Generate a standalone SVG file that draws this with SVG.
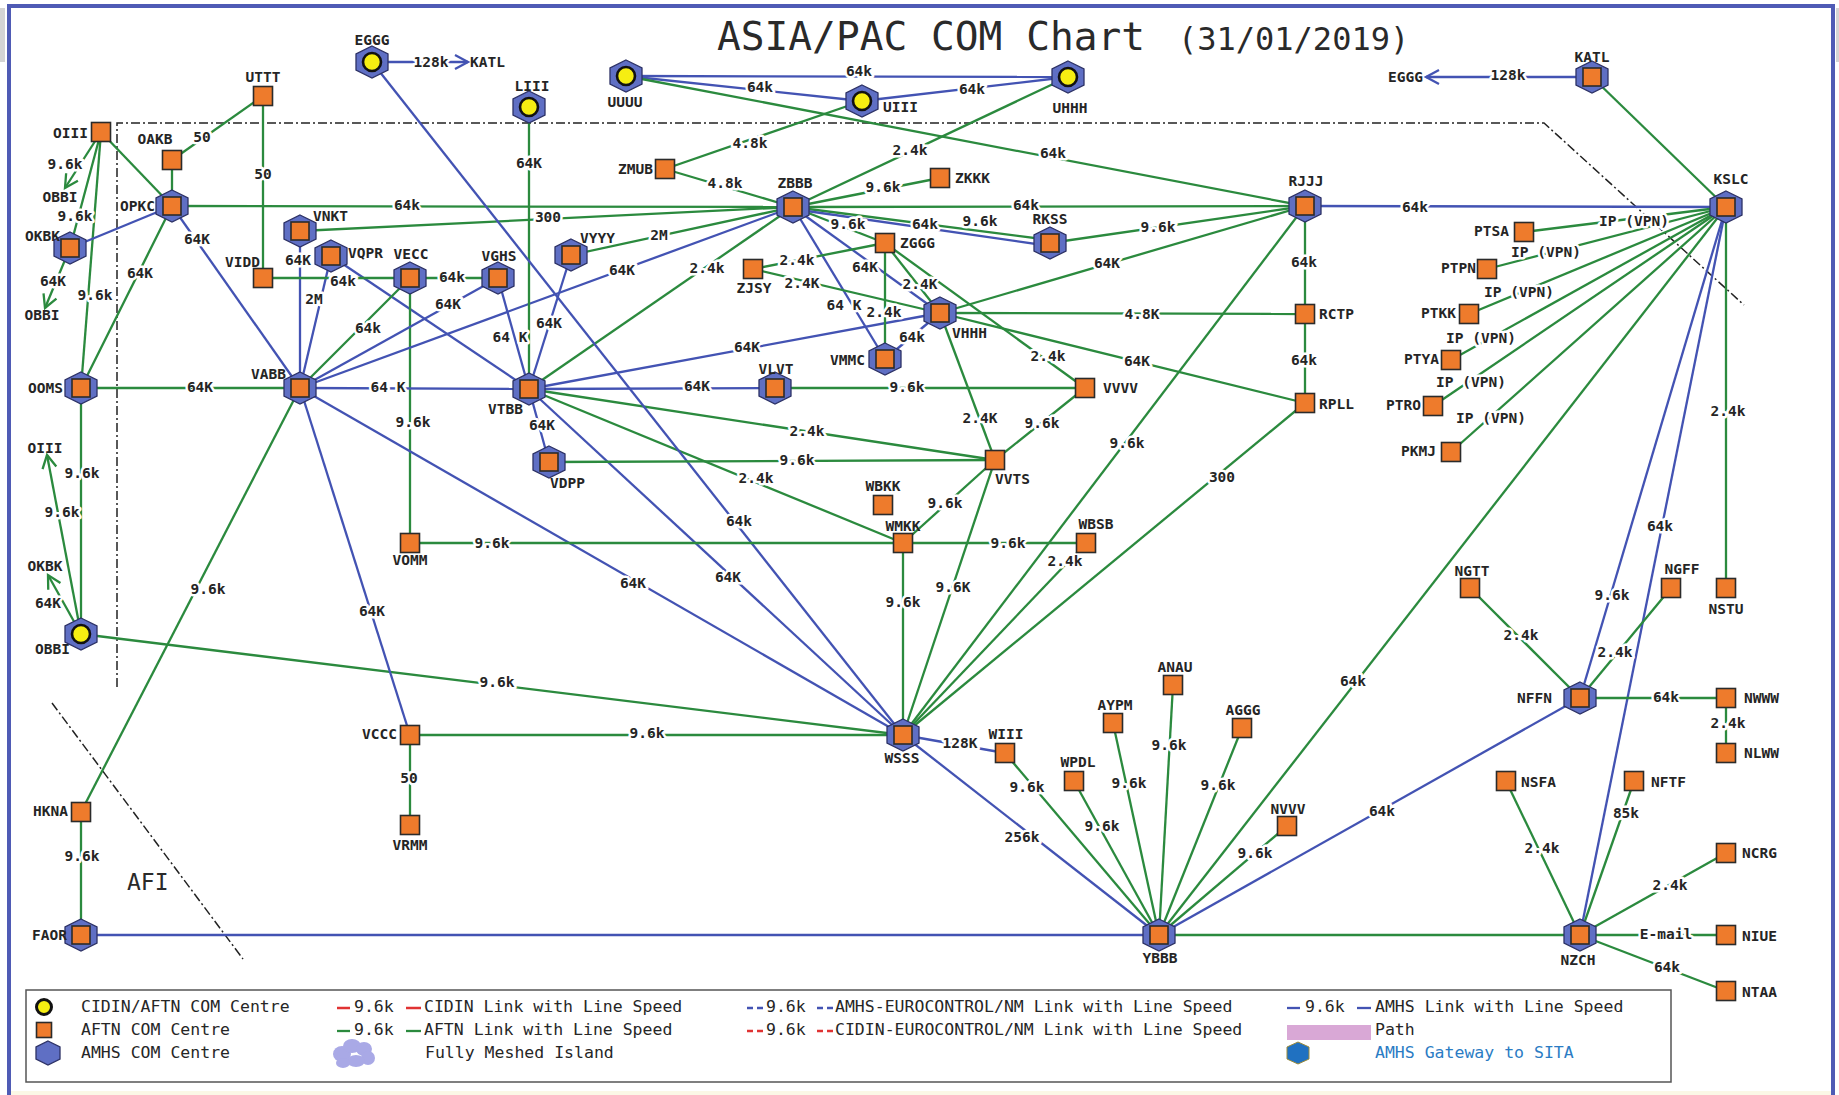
<svg xmlns="http://www.w3.org/2000/svg" xmlns:xlink="http://www.w3.org/1999/xlink" width="1839" height="1095" viewBox="0 0 1839 1095">
<style>
  .g{stroke:#2b8a3e;stroke-width:2.3;fill:none}
  .b{stroke:#4353b3;stroke-width:2.3;fill:none}
  .bd{stroke:#222;stroke-width:1.5;fill:none;stroke-dasharray:9 3 2 3}
  .hex{fill:#5f6fc4;stroke:#2d3266;stroke-width:1.3}
  .sq{fill:#ee7b2c;stroke:#2b2b2b;stroke-width:1.6}
  .yc{fill:#f6ee12;stroke:#111;stroke-width:2.6}
  .nl{font-family:"DejaVu Sans Mono",monospace;font-weight:bold;font-size:14.5px;fill:#252525}
  .m{text-anchor:middle}
  .e{text-anchor:end}
  .el{font-family:"DejaVu Sans Mono",monospace;font-weight:bold;font-size:14.5px;fill:#252525;text-anchor:middle;dominant-baseline:central;stroke:#fff;stroke-width:5;stroke-linejoin:round;paint-order:stroke}
  .lg{font-family:"DejaVu Sans Mono",monospace;font-size:16.5px;fill:#262626}
  .ttl{font-family:"DejaVu Sans Mono",monospace;fill:#2a2a2a}
</style>
<defs>
  <polygon id="hex" class="hex" points="0,-16 16,-8 16,8 0,16 -16,8 -16,-8"/>
  <rect id="sq" class="sq" x="-9.5" y="-9.5" width="19" height="19"/>
  <rect id="sqi" class="sq" x="-9" y="-9" width="18" height="18"/>
  <circle id="yc" class="yc" r="9"/>
  <marker id="arG" markerUnits="userSpaceOnUse" markerWidth="18" markerHeight="18" refX="14" refY="8" orient="auto" overflow="visible">
    <path d="M1,1 L14,8 L1,15" fill="none" stroke="#2b8a3e" stroke-width="2.3"/>
  </marker>
  <marker id="arB" markerUnits="userSpaceOnUse" markerWidth="18" markerHeight="18" refX="14" refY="8" orient="auto" overflow="visible">
    <path d="M1,1 L14,8 L1,15" fill="none" stroke="#4353b3" stroke-width="2.3"/>
  </marker>
</defs>

<!-- page -->
<rect x="0" y="0" width="1839" height="1095" fill="#fff"/>
<rect x="0" y="8" width="5" height="54" fill="#d4d4d4"/>
<rect x="1836" y="8" width="3" height="54" fill="#d4d4d4"/>
<rect x="11" y="1091" width="1820" height="4" fill="#fbf8e6"/>
<path d="M9,1100 V6 H1833 V1100" fill="none" stroke="#4f5bb5" stroke-width="4"/>

<!-- title -->
<text class="ttl" x="717" y="50" font-size="39.5">ASIA/PAC COM Chart</text>
<text class="ttl" x="1178" y="50" font-size="32">(31/01/2019)</text>

<!-- region boundaries -->
<g id="boundaries">
  <path class="bd" d="M117,687 V123 H1544 L1744,305"/>
  <path class="bd" d="M52,703 L243,959"/>
  <text class="ttl" x="127" y="890" font-size="23">AFI</text>
</g>

<g id="connectors">
  <!-- arrows to external centres -->
  <line class="b" x1="372" y1="62" x2="468" y2="62" marker-end="url(#arB)"/>
  <line class="b" x1="1592" y1="77" x2="1426" y2="77" marker-end="url(#arB)"/>
  <line class="g" x1="101" y1="132" x2="65" y2="188" marker-end="url(#arG)"/>
  <line class="g" x1="70" y1="248" x2="45" y2="308" marker-end="url(#arG)"/>
  <line class="g" x1="81" y1="634" x2="47" y2="455" marker-end="url(#arG)"/>
  <line class="g" x1="81" y1="634" x2="48" y2="575" marker-end="url(#arG)"/>

  <!-- west -->
  <line class="g" x1="263" y1="96" x2="172" y2="160"/>
  <line class="g" x1="263" y1="96" x2="263" y2="278"/>
  <line class="g" x1="172" y1="160" x2="172" y2="206"/>
  <line class="g" x1="101" y1="132" x2="172" y2="206"/>
  <line class="g" x1="101" y1="132" x2="70" y2="248"/>
  <line class="g" x1="101" y1="132" x2="81" y2="388"/>
  <line class="b" x1="70" y1="248" x2="172" y2="206"/>
  <line class="g" x1="172" y1="206" x2="81" y2="388"/>
  <line class="b" x1="172" y1="206" x2="300" y2="388"/>
  <line class="g" x1="172" y1="206" x2="793" y2="207"/>
  <line class="g" x1="81" y1="388" x2="300" y2="388"/>
  <line class="g" x1="81" y1="388" x2="81" y2="634"/>
  <line class="g" x1="81" y1="634" x2="903" y2="735"/>
  <line class="g" x1="300" y1="388" x2="81" y2="812"/>
  <line class="g" x1="81" y1="812" x2="81" y2="935"/>
  <line class="b" x1="81" y1="935" x2="1159" y2="935"/>

  <!-- India / Bay of Bengal -->
  <line class="g" x1="300" y1="231" x2="793" y2="207"/>
  <line class="b" x1="300" y1="231" x2="300" y2="388"/>
  <line class="b" x1="331" y1="256" x2="300" y2="388"/>
  <line class="b" x1="331" y1="256" x2="529" y2="389"/>
  <line class="g" x1="263" y1="278" x2="410" y2="278"/>
  <line class="g" x1="410" y1="278" x2="498" y2="278"/>
  <line class="g" x1="410" y1="278" x2="300" y2="388"/>
  <line class="g" x1="410" y1="278" x2="410" y2="543"/>
  <line class="b" x1="498" y1="278" x2="300" y2="388"/>
  <line class="b" x1="498" y1="278" x2="529" y2="389"/>
  <line class="b" x1="571" y1="255" x2="529" y2="389"/>
  <line class="g" x1="571" y1="255" x2="793" y2="207"/>
  <line class="b" x1="300" y1="388" x2="793" y2="207"/>
  <line class="b" x1="300" y1="388" x2="529" y2="389"/>
  <line class="b" x1="300" y1="388" x2="410" y2="735"/>
  <line class="b" x1="300" y1="388" x2="903" y2="735"/>
  <line class="g" x1="529" y1="107" x2="529" y2="389"/>
  <line class="g" x1="529" y1="389" x2="793" y2="207"/>
  <line class="b" x1="529" y1="389" x2="940" y2="313"/>
  <line class="b" x1="529" y1="389" x2="775" y2="388"/>
  <line class="b" x1="529" y1="389" x2="549" y2="462"/>
  <line class="g" x1="529" y1="389" x2="995" y2="460"/>
  <line class="g" x1="529" y1="389" x2="903" y2="543"/>
  <line class="b" x1="529" y1="389" x2="903" y2="735"/>
  <line class="b" x1="372" y1="62" x2="903" y2="735"/>
  <line class="g" x1="775" y1="388" x2="1085" y2="388"/>
  <line class="g" x1="549" y1="462" x2="995" y2="460"/>
  <line class="g" x1="410" y1="543" x2="903" y2="543"/>
  <line class="g" x1="410" y1="735" x2="903" y2="735"/>
  <line class="g" x1="410" y1="735" x2="410" y2="825"/>

  <!-- north / China -->
  <line class="b" x1="626" y1="76" x2="1068" y2="77"/>
  <line class="b" x1="626" y1="76" x2="862" y2="101"/>
  <line class="b" x1="862" y1="101" x2="1068" y2="77"/>
  <line class="g" x1="626" y1="76" x2="1305" y2="206"/>
  <line class="g" x1="1068" y1="77" x2="793" y2="207"/>
  <line class="g" x1="665" y1="169" x2="862" y2="101"/>
  <line class="g" x1="665" y1="169" x2="793" y2="207"/>
  <line class="g" x1="793" y1="207" x2="940" y2="178"/>
  <line class="g" x1="793" y1="207" x2="1305" y2="206"/>
  <line class="g" x1="793" y1="207" x2="1050" y2="240"/>
  <line class="b" x1="793" y1="209" x2="1050" y2="246"/>
  <line class="g" x1="793" y1="207" x2="885" y2="243"/>
  <line class="b" x1="793" y1="207" x2="940" y2="313"/>
  <line class="b" x1="793" y1="207" x2="885" y2="359"/>
  <line class="g" x1="753" y1="269" x2="885" y2="243"/>
  <line class="g" x1="753" y1="269" x2="940" y2="313"/>
  <line class="g" x1="885" y1="243" x2="885" y2="359"/>
  <line class="g" x1="885" y1="243" x2="940" y2="313"/>
  <line class="g" x1="885" y1="243" x2="1085" y2="388"/>
  <line class="b" x1="885" y1="359" x2="940" y2="313"/>
  <line class="g" x1="1050" y1="243" x2="1305" y2="206"/>
  <line class="g" x1="940" y1="313" x2="1305" y2="206"/>
  <line class="g" x1="940" y1="313" x2="1305" y2="314"/>
  <line class="g" x1="940" y1="313" x2="1305" y2="403"/>
  <line class="g" x1="940" y1="313" x2="995" y2="460"/>
  <line class="g" x1="1305" y1="206" x2="1305" y2="403"/>
  <line class="b" x1="1305" y1="206" x2="1726" y2="207"/>
  <line class="g" x1="1305" y1="206" x2="903" y2="735"/>
  <line class="g" x1="1305" y1="403" x2="903" y2="735"/>

  <!-- south-east Asia -->
  <line class="g" x1="995" y1="460" x2="1085" y2="388"/>
  <line class="g" x1="995" y1="460" x2="903" y2="543"/>
  <line class="g" x1="995" y1="460" x2="903" y2="735"/>
  <line class="g" x1="903" y1="543" x2="1086" y2="543"/>
  <line class="g" x1="903" y1="543" x2="903" y2="735"/>
  <line class="g" x1="1086" y1="543" x2="903" y2="735"/>
  <line class="b" x1="903" y1="735" x2="1005" y2="753"/>
  <line class="b" x1="903" y1="735" x2="1159" y2="935"/>

  <!-- Australia / Pacific -->
  <line class="g" x1="1005" y1="753" x2="1159" y2="935"/>
  <line class="g" x1="1074" y1="781" x2="1159" y2="935"/>
  <line class="g" x1="1113" y1="723" x2="1159" y2="935"/>
  <line class="g" x1="1173" y1="685" x2="1159" y2="935"/>
  <line class="g" x1="1242" y1="728" x2="1159" y2="935"/>
  <line class="g" x1="1287" y1="826" x2="1159" y2="935"/>
  <line class="g" x1="1726" y1="207" x2="1159" y2="935"/>
  <line class="b" x1="1580" y1="698" x2="1159" y2="935"/>
  <line class="g" x1="1159" y1="935" x2="1580" y2="935"/>
  <line class="g" x1="1592" y1="77" x2="1726" y2="207"/>
  <line class="g" x1="1726" y1="207" x2="1524" y2="232"/>
  <line class="g" x1="1726" y1="207" x2="1487" y2="269"/>
  <line class="g" x1="1726" y1="207" x2="1469" y2="314"/>
  <line class="g" x1="1726" y1="207" x2="1451" y2="360"/>
  <line class="g" x1="1726" y1="207" x2="1433" y2="406"/>
  <line class="g" x1="1726" y1="207" x2="1451" y2="452"/>
  <line class="g" x1="1726" y1="207" x2="1726" y2="588"/>
  <line class="b" x1="1726" y1="207" x2="1580" y2="698"/>
  <line class="b" x1="1726" y1="207" x2="1580" y2="935"/>
  <line class="g" x1="1470" y1="588" x2="1580" y2="698"/>
  <line class="g" x1="1671" y1="588" x2="1580" y2="698"/>
  <line class="g" x1="1580" y1="698" x2="1726" y2="698"/>
  <line class="g" x1="1726" y1="698" x2="1726" y2="753"/>
  <line class="g" x1="1506" y1="781" x2="1580" y2="935"/>
  <line class="g" x1="1634" y1="781" x2="1580" y2="935"/>
  <line class="g" x1="1726" y1="853" x2="1580" y2="935"/>
  <line class="g" x1="1580" y1="935" x2="1726" y2="935"/>
  <line class="g" x1="1580" y1="935" x2="1726" y2="991"/>
</g>

<g id="link-labels">
  <text class="el" x="431" y="62">128k</text>
  <text class="el" x="1508" y="75">128k</text>
  <text class="el" x="202" y="137">50</text>
  <text class="el" x="263" y="174">50</text>
  <text class="el" x="65" y="164">9.6k</text>
  <text class="el" x="75" y="216">9.6k</text>
  <text class="el" x="95" y="295">9.6k</text>
  <text class="el" x="53" y="281">64K</text>
  <text class="el" x="140" y="273">64K</text>
  <text class="el" x="197" y="239">64K</text>
  <text class="el" x="407" y="205">64k</text>
  <text class="el" x="548" y="217">300</text>
  <text class="el" x="298" y="260">64K</text>
  <text class="el" x="314" y="299">2M</text>
  <text class="el" x="343" y="281">64k</text>
  <text class="el" x="452" y="277">64k</text>
  <text class="el" x="368" y="328">64k</text>
  <text class="el" x="413" y="422">9.6k</text>
  <text class="el" x="448" y="304">64K</text>
  <text class="el" x="510" y="337">64 K</text>
  <text class="el" x="549" y="323">64K</text>
  <text class="el" x="659" y="235">2M</text>
  <text class="el" x="622" y="270">64K</text>
  <text class="el" x="707" y="268">2.4k</text>
  <text class="el" x="529" y="163">64K</text>
  <text class="el" x="859" y="71">64k</text>
  <text class="el" x="760" y="87">64k</text>
  <text class="el" x="972" y="89">64k</text>
  <text class="el" x="1053" y="153">64k</text>
  <text class="el" x="910" y="150">2.4k</text>
  <text class="el" x="750" y="143">4.8k</text>
  <text class="el" x="725" y="183">4.8k</text>
  <text class="el" x="883" y="187">9.6k</text>
  <text class="el" x="1026" y="205">64k</text>
  <text class="el" x="980" y="221">9.6k</text>
  <text class="el" x="925" y="224">64k</text>
  <text class="el" x="848" y="224">9.6k</text>
  <text class="el" x="865" y="267">64K</text>
  <text class="el" x="844" y="305">64 K</text>
  <text class="el" x="797" y="260">2.4k</text>
  <text class="el" x="802" y="283">2.4K</text>
  <text class="el" x="884" y="312">2.4k</text>
  <text class="el" x="920" y="284">2.4K</text>
  <text class="el" x="1048" y="356">2.4k</text>
  <text class="el" x="912" y="337">64k</text>
  <text class="el" x="747" y="347">64K</text>
  <text class="el" x="1158" y="227">9.6k</text>
  <text class="el" x="1107" y="263">64K</text>
  <text class="el" x="1142" y="314">4.8K</text>
  <text class="el" x="1137" y="361">64K</text>
  <text class="el" x="980" y="418">2.4K</text>
  <text class="el" x="1304" y="262">64k</text>
  <text class="el" x="1304" y="360">64k</text>
  <text class="el" x="1415" y="207">64k</text>
  <text class="el" x="1127" y="443">9.6k</text>
  <text class="el" x="1222" y="477">300</text>
  <text class="el" x="200" y="387">64K</text>
  <text class="el" x="388" y="387">64 K</text>
  <text class="el" x="697" y="386">64K</text>
  <text class="el" x="907" y="387">9.6k</text>
  <text class="el" x="542" y="425">64K</text>
  <text class="el" x="797" y="460">9.6k</text>
  <text class="el" x="807" y="431">2.4k</text>
  <text class="el" x="756" y="478">2.4k</text>
  <text class="el" x="1042" y="423">9.6k</text>
  <text class="el" x="945" y="503">9.6k</text>
  <text class="el" x="953" y="587">9.6K</text>
  <text class="el" x="492" y="543">9.6k</text>
  <text class="el" x="1008" y="543">9.6k</text>
  <text class="el" x="903" y="602">9.6k</text>
  <text class="el" x="1065" y="561">2.4k</text>
  <text class="el" x="82" y="473">9.6k</text>
  <text class="el" x="62" y="512">9.6k</text>
  <text class="el" x="48" y="603">64K</text>
  <text class="el" x="497" y="682">9.6k</text>
  <text class="el" x="208" y="589">9.6k</text>
  <text class="el" x="372" y="611">64K</text>
  <text class="el" x="633" y="583">64K</text>
  <text class="el" x="728" y="577">64K</text>
  <text class="el" x="739" y="521">64k</text>
  <text class="el" x="647" y="733">9.6k</text>
  <text class="el" x="409" y="778">50</text>
  <text class="el" x="82" y="856">9.6k</text>
  <text class="el" x="960" y="743">128K</text>
  <text class="el" x="1022" y="837">256k</text>
  <text class="el" x="1027" y="787">9.6k</text>
  <text class="el" x="1102" y="826">9.6k</text>
  <text class="el" x="1129" y="783">9.6k</text>
  <text class="el" x="1169" y="745">9.6k</text>
  <text class="el" x="1218" y="785">9.6k</text>
  <text class="el" x="1255" y="853">9.6k</text>
  <text class="el" x="1353" y="681">64k</text>
  <text class="el" x="1382" y="811">64k</text>
  <text class="el" x="1634" y="221">IP (VPN)</text>
  <text class="el" x="1546" y="252">IP (VPN)</text>
  <text class="el" x="1519" y="292">IP (VPN)</text>
  <text class="el" x="1481" y="338">IP (VPN)</text>
  <text class="el" x="1471" y="382">IP (VPN)</text>
  <text class="el" x="1491" y="418">IP (VPN)</text>
  <text class="el" x="1728" y="411">2.4k</text>
  <text class="el" x="1612" y="595">9.6k</text>
  <text class="el" x="1660" y="526">64k</text>
  <text class="el" x="1521" y="635">2.4k</text>
  <text class="el" x="1615" y="652">2.4k</text>
  <text class="el" x="1666" y="697">64k</text>
  <text class="el" x="1728" y="723">2.4k</text>
  <text class="el" x="1542" y="848">2.4k</text>
  <text class="el" x="1626" y="813">85k</text>
  <text class="el" x="1670" y="885">2.4k</text>
  <text class="el" x="1666" y="934">E-mail</text>
  <text class="el" x="1667" y="967">64k</text>
</g>

<!-- external destinations at arrow ends -->
<g id="external-refs">
  <text class="nl" x="470" y="67">KATL</text>
  <text class="nl e" x="1423" y="82">EGGG</text>
  <text class="nl m" x="60" y="202">OBBI</text>
  <text class="nl m" x="42" y="320">OBBI</text>
  <text class="nl m" x="45" y="453">OIII</text>
  <text class="nl m" x="45" y="571">OKBK</text>
</g>

<!-- CIDIN/AFTN COM centres -->
<g id="n-EGGG"><use href="#hex" x="372" y="62"/><use href="#yc" x="372" y="62"/><text class="nl m" x="372" y="45">EGGG</text></g>
<g id="n-LIII"><use href="#hex" x="529" y="107"/><use href="#yc" x="529" y="107"/><text class="nl m" x="532" y="91">LIII</text></g>
<g id="n-UUUU"><use href="#hex" x="626" y="76"/><use href="#yc" x="626" y="76"/><text class="nl m" x="625" y="107">UUUU</text></g>
<g id="n-UIII"><use href="#hex" x="862" y="101"/><use href="#yc" x="862" y="101"/><text class="nl" x="883" y="112">UIII</text></g>
<g id="n-UHHH"><use href="#hex" x="1068" y="77"/><use href="#yc" x="1068" y="77"/><text class="nl m" x="1070" y="113">UHHH</text></g>
<g id="n-OBBI"><use href="#hex" x="81" y="634"/><use href="#yc" x="81" y="634"/><text class="nl e" x="70" y="654">OBBI</text></g>

<!-- AMHS COM centres -->
<g id="n-OPKC"><use href="#hex" x="172" y="206"/><use href="#sqi" x="172" y="206"/><text class="nl e" x="155" y="211">OPKC</text></g>
<g id="n-OKBK"><use href="#hex" x="70" y="248"/><use href="#sqi" x="70" y="248"/><text class="nl e" x="60" y="241">OKBK</text></g>
<g id="n-VNKT"><use href="#hex" x="300" y="231"/><use href="#sqi" x="300" y="231"/><text class="nl" x="313" y="221">VNKT</text></g>
<g id="n-VQPR"><use href="#hex" x="331" y="256"/><use href="#sqi" x="331" y="256"/><text class="nl" x="348" y="258">VQPR</text></g>
<g id="n-VECC"><use href="#hex" x="410" y="278"/><use href="#sqi" x="410" y="278"/><text class="nl m" x="411" y="259">VECC</text></g>
<g id="n-VGHS"><use href="#hex" x="498" y="278"/><use href="#sqi" x="498" y="278"/><text class="nl m" x="499" y="261">VGHS</text></g>
<g id="n-VYYY"><use href="#hex" x="571" y="255"/><use href="#sqi" x="571" y="255"/><text class="nl" x="580" y="243">VYYY</text></g>
<g id="n-ZBBB"><use href="#hex" x="793" y="207"/><use href="#sqi" x="793" y="207"/><text class="nl m" x="795" y="188">ZBBB</text></g>
<g id="n-RKSS"><use href="#hex" x="1050" y="243"/><use href="#sqi" x="1050" y="243"/><text class="nl m" x="1050" y="224">RKSS</text></g>
<g id="n-RJJJ"><use href="#hex" x="1305" y="206"/><use href="#sqi" x="1305" y="206"/><text class="nl m" x="1306" y="186">RJJJ</text></g>
<g id="n-VHHH"><use href="#hex" x="940" y="313"/><use href="#sqi" x="940" y="313"/><text class="nl" x="952" y="338">VHHH</text></g>
<g id="n-VMMC"><use href="#hex" x="885" y="359"/><use href="#sqi" x="885" y="359"/><text class="nl e" x="865" y="365">VMMC</text></g>
<g id="n-OOMS"><use href="#hex" x="81" y="388"/><use href="#sqi" x="81" y="388"/><text class="nl e" x="63" y="393">OOMS</text></g>
<g id="n-VABB"><use href="#hex" x="300" y="388"/><use href="#sqi" x="300" y="388"/><text class="nl e" x="286" y="379">VABB</text></g>
<g id="n-VTBB"><use href="#hex" x="529" y="389"/><use href="#sqi" x="529" y="389"/><text class="nl e" x="523" y="414">VTBB</text></g>
<g id="n-VLVT"><use href="#hex" x="775" y="388"/><use href="#sqi" x="775" y="388"/><text class="nl m" x="776" y="374">VLVT</text></g>
<g id="n-VDPP"><use href="#hex" x="549" y="462"/><use href="#sqi" x="549" y="462"/><text class="nl" x="550" y="488">VDPP</text></g>
<g id="n-WSSS"><use href="#hex" x="903" y="735"/><use href="#sqi" x="903" y="735"/><text class="nl m" x="902" y="763">WSSS</text></g>
<g id="n-YBBB"><use href="#hex" x="1159" y="935"/><use href="#sqi" x="1159" y="935"/><text class="nl m" x="1160" y="963">YBBB</text></g>
<g id="n-FAOR"><use href="#hex" x="81" y="935"/><use href="#sqi" x="81" y="935"/><text class="nl e" x="67" y="940">FAOR</text></g>
<g id="n-KATL"><use href="#hex" x="1592" y="77"/><use href="#sqi" x="1592" y="77"/><text class="nl m" x="1592" y="62">KATL</text></g>
<g id="n-KSLC"><use href="#hex" x="1726" y="207"/><use href="#sqi" x="1726" y="207"/><text class="nl m" x="1731" y="184">KSLC</text></g>
<g id="n-NFFN"><use href="#hex" x="1580" y="698"/><use href="#sqi" x="1580" y="698"/><text class="nl e" x="1552" y="703">NFFN</text></g>
<g id="n-NZCH"><use href="#hex" x="1580" y="935"/><use href="#sqi" x="1580" y="935"/><text class="nl m" x="1578" y="965">NZCH</text></g>

<!-- AFTN COM centres -->
<g id="n-UTTT"><use href="#sq" x="263" y="96"/><text class="nl m" x="263" y="82">UTTT</text></g>
<g id="n-OIII"><use href="#sq" x="101" y="132"/><text class="nl e" x="88" y="138">OIII</text></g>
<g id="n-OAKB"><use href="#sq" x="172" y="160"/><text class="nl m" x="155" y="144">OAKB</text></g>
<g id="n-VIDD"><use href="#sq" x="263" y="278"/><text class="nl e" x="260" y="267">VIDD</text></g>
<g id="n-ZMUB"><use href="#sq" x="665" y="169"/><text class="nl e" x="653" y="174">ZMUB</text></g>
<g id="n-ZKKK"><use href="#sq" x="940" y="178"/><text class="nl" x="955" y="183">ZKKK</text></g>
<g id="n-ZGGG"><use href="#sq" x="885" y="243"/><text class="nl" x="900" y="248">ZGGG</text></g>
<g id="n-ZJSY"><use href="#sq" x="753" y="269"/><text class="nl m" x="754" y="293">ZJSY</text></g>
<g id="n-RCTP"><use href="#sq" x="1305" y="314"/><text class="nl" x="1319" y="319">RCTP</text></g>
<g id="n-RPLL"><use href="#sq" x="1305" y="403"/><text class="nl" x="1319" y="409">RPLL</text></g>
<g id="n-VVVV"><use href="#sq" x="1085" y="388"/><text class="nl" x="1103" y="393">VVVV</text></g>
<g id="n-VVTS"><use href="#sq" x="995" y="460"/><text class="nl" x="995" y="484">VVTS</text></g>
<g id="n-WBKK"><use href="#sq" x="883" y="505"/><text class="nl m" x="883" y="491">WBKK</text></g>
<g id="n-WMKK"><use href="#sq" x="903" y="543"/><text class="nl m" x="903" y="531">WMKK</text></g>
<g id="n-WBSB"><use href="#sq" x="1086" y="543"/><text class="nl m" x="1096" y="529">WBSB</text></g>
<g id="n-VOMM"><use href="#sq" x="410" y="543"/><text class="nl m" x="410" y="565">VOMM</text></g>
<g id="n-VCCC"><use href="#sq" x="410" y="735"/><text class="nl e" x="397" y="739">VCCC</text></g>
<g id="n-VRMM"><use href="#sq" x="410" y="825"/><text class="nl m" x="410" y="850">VRMM</text></g>
<g id="n-HKNA"><use href="#sq" x="81" y="812"/><text class="nl e" x="68" y="816">HKNA</text></g>
<g id="n-WIII"><use href="#sq" x="1005" y="753"/><text class="nl m" x="1006" y="739">WIII</text></g>
<g id="n-WPDL"><use href="#sq" x="1074" y="781"/><text class="nl m" x="1078" y="767">WPDL</text></g>
<g id="n-AYPM"><use href="#sq" x="1113" y="723"/><text class="nl m" x="1115" y="710">AYPM</text></g>
<g id="n-ANAU"><use href="#sq" x="1173" y="685"/><text class="nl m" x="1175" y="672">ANAU</text></g>
<g id="n-AGGG"><use href="#sq" x="1242" y="728"/><text class="nl m" x="1243" y="715">AGGG</text></g>
<g id="n-NVVV"><use href="#sq" x="1287" y="826"/><text class="nl m" x="1288" y="814">NVVV</text></g>
<g id="n-PTSA"><use href="#sq" x="1524" y="232"/><text class="nl e" x="1509" y="236">PTSA</text></g>
<g id="n-PTPN"><use href="#sq" x="1487" y="269"/><text class="nl e" x="1476" y="273">PTPN</text></g>
<g id="n-PTKK"><use href="#sq" x="1469" y="314"/><text class="nl e" x="1456" y="318">PTKK</text></g>
<g id="n-PTYA"><use href="#sq" x="1451" y="360"/><text class="nl e" x="1439" y="364">PTYA</text></g>
<g id="n-PTRO"><use href="#sq" x="1433" y="406"/><text class="nl e" x="1421" y="410">PTRO</text></g>
<g id="n-PKMJ"><use href="#sq" x="1451" y="452"/><text class="nl e" x="1436" y="456">PKMJ</text></g>
<g id="n-NSTU"><use href="#sq" x="1726" y="588"/><text class="nl m" x="1726" y="614">NSTU</text></g>
<g id="n-NGTT"><use href="#sq" x="1470" y="588"/><text class="nl m" x="1472" y="576">NGTT</text></g>
<g id="n-NGFF"><use href="#sq" x="1671" y="588"/><text class="nl m" x="1682" y="574">NGFF</text></g>
<g id="n-NWWW"><use href="#sq" x="1726" y="698"/><text class="nl" x="1744" y="703">NWWW</text></g>
<g id="n-NLWW"><use href="#sq" x="1726" y="753"/><text class="nl" x="1744" y="758">NLWW</text></g>
<g id="n-NSFA"><use href="#sq" x="1506" y="781"/><text class="nl" x="1521" y="787">NSFA</text></g>
<g id="n-NFTF"><use href="#sq" x="1634" y="781"/><text class="nl" x="1651" y="787">NFTF</text></g>
<g id="n-NCRG"><use href="#sq" x="1726" y="853"/><text class="nl" x="1742" y="858">NCRG</text></g>
<g id="n-NIUE"><use href="#sq" x="1726" y="935"/><text class="nl" x="1742" y="941">NIUE</text></g>
<g id="n-NTAA"><use href="#sq" x="1726" y="991"/><text class="nl" x="1742" y="997">NTAA</text></g>

<!-- legend -->
<g id="legend">
  <rect x="26" y="990" width="1645" height="92" fill="#fff" stroke="#555" stroke-width="1.5"/>
  <circle cx="44" cy="1007" r="7.5" fill="#f6ee12" stroke="#111" stroke-width="3"/>
  <rect x="36.5" y="1022.5" width="15" height="15" class="sq"/>
  <polygon class="hex" points="48,1041 60,1047 60,1059 48,1065 36,1059 36,1047"/>
  <text class="lg" x="81" y="1012">CIDIN/AFTN COM Centre</text>
  <text class="lg" x="81" y="1035">AFTN COM Centre</text>
  <text class="lg" x="81" y="1058">AMHS COM Centre</text>

  <line x1="337" y1="1008" x2="350" y2="1008" stroke="#e03333" stroke-width="2.5"/>
  <text class="lg" x="354" y="1012">9.6k</text>
  <line x1="406" y1="1008" x2="421" y2="1008" stroke="#e03333" stroke-width="2.5"/>
  <text class="lg" x="424" y="1012">CIDIN Link with Line Speed</text>
  <line x1="337" y1="1031" x2="350" y2="1031" class="g" stroke-width="2.5"/>
  <text class="lg" x="354" y="1035">9.6k</text>
  <line x1="406" y1="1031" x2="421" y2="1031" class="g" stroke-width="2.5"/>
  <text class="lg" x="424" y="1035">AFTN Link with Line Speed</text>
  <g fill="#a9a9e6">
    <ellipse cx="342" cy="1054" rx="9" ry="8"/>
    <ellipse cx="352" cy="1046" rx="9" ry="7"/>
    <ellipse cx="364" cy="1049" rx="8" ry="7"/>
    <ellipse cx="368" cy="1058" rx="7" ry="7"/>
    <ellipse cx="356" cy="1061" rx="9" ry="6"/>
    <ellipse cx="343" cy="1063" rx="7" ry="5"/>
  </g>
  <text class="lg" x="425" y="1058">Fully Meshed Island</text>

  <path d="M747,1008 h6 M757,1008 h6 M817,1008 h6 M827,1008 h6" stroke="#4353b3" stroke-width="2.5"/>
  <text class="lg" x="766" y="1012">9.6k</text>
  <text class="lg" x="835" y="1012">AMHS-EUROCONTROL/NM Link with Line Speed</text>
  <path d="M747,1031 h6 M757,1031 h6 M817,1031 h6 M827,1031 h6" stroke="#e03333" stroke-width="2.5"/>
  <text class="lg" x="766" y="1035">9.6k</text>
  <text class="lg" x="835" y="1035">CIDIN-EUROCONTROL/NM Link with Line Speed</text>

  <line x1="1287" y1="1008" x2="1300" y2="1008" class="b" stroke-width="2.5"/>
  <text class="lg" x="1305" y="1012">9.6k</text>
  <line x1="1357" y1="1008" x2="1371" y2="1008" class="b" stroke-width="2.5"/>
  <text class="lg" x="1375" y="1012">AMHS Link with Line Speed</text>
  <rect x="1287" y="1025" width="84" height="15" fill="#d9a8d6"/>
  <text class="lg" x="1375" y="1035">Path</text>
  <polygon points="1298,1042 1309,1047 1309,1059 1298,1064 1287,1059 1287,1047" fill="#2071c1" stroke="#9a8a3a" stroke-width="1"/>
  <text class="lg" x="1375" y="1058" fill="#2b7cc4" style="fill:#2b7cc4">AMHS Gateway to SITA</text>
</g>
</svg>
